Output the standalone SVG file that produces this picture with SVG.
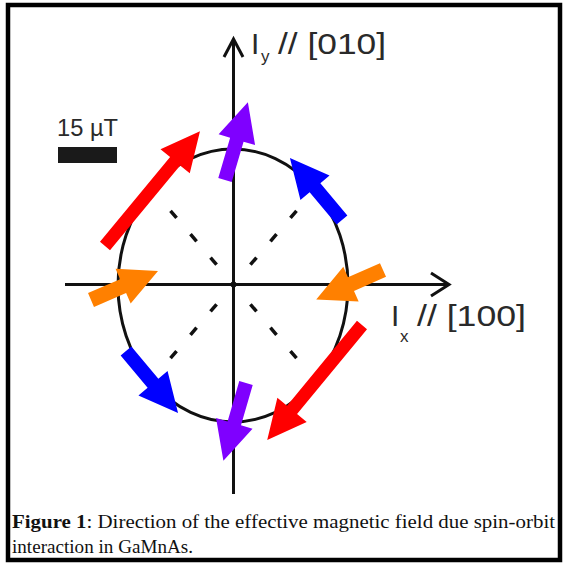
<svg xmlns="http://www.w3.org/2000/svg" width="572" height="566" viewBox="0 0 572 566">
<style>
.ax{stroke:#111;stroke-width:3;fill:none;stroke-linecap:butt}
.dash{stroke:#111;stroke-width:3.5;fill:none;stroke-dasharray:9.4 21.4}
.lbl{font-family:"Liberation Sans",Arial,sans-serif;fill:#2a2a2a}
.cap{font-family:"Liberation Serif","Times New Roman",serif;font-size:18px;fill:#111}
.red{fill:#FF0000}.pur{fill:#7F00FF}.blu{fill:#0000FF}.org{fill:#FF8000}
</style>
<defs>
<path id="longArrow" d="M0,-6.5 L110,-6.5 L110,-19 L149,0 L110,19 L110,6.5 L0,6.5 Z"/>
<path id="shortArrow" d="M0,-7 L42,-7 L42,-19 L81,0 L42,19 L42,7 L0,7 Z"/>
<path id="orgArrow" d="M0,-7.5 L35,-7.5 L35,-19 L73,0 L35,19 L35,7.5 L0,7.5 Z"/>
</defs>
<rect x="8" y="5" width="552" height="555" fill="#fff" stroke="#000" stroke-width="4.5"/>
<g id="axes">
<line class="ax" x1="233.5" y1="494" x2="233.5" y2="39"/>
<polyline class="ax" points="224,57 233.5,39 243,57"/>
<line class="ax" x1="65" y1="284.5" x2="448" y2="284.5"/>
<polyline class="ax" points="431,273 449,284.5 431,296"/>
<circle cx="233.5" cy="284.5" r="3" fill="#111"/>
</g>
<g id="ellipse">
<ellipse class="ax" cx="233" cy="285.5" rx="115" ry="136.5"/>
</g>
<g id="dashes">
<line class="dash" x1="250.4" y1="264.7" x2="296.5" y2="210.8"/>
<line class="dash" x1="216.6" y1="264.7" x2="170.5" y2="210.8"/>
<line class="dash" x1="216.6" y1="304.3" x2="170.5" y2="358.2"/>
<line class="dash" x1="250.4" y1="304.3" x2="296.5" y2="358.2"/>
</g>
<g id="arrows">
<use href="#longArrow" class="red" transform="translate(105,246) rotate(-50.4)"/>
<use href="#longArrow" class="red" transform="translate(362,325) rotate(129.5)"/>
<use href="#shortArrow" class="pur" transform="translate(225,180) rotate(-73.6)"/>
<use href="#shortArrow" class="pur" transform="translate(246,383) rotate(106.2)"/>
<use href="#shortArrow" class="blu" transform="translate(342,220) rotate(-130)"/>
<use href="#shortArrow" class="blu" transform="translate(126,351) rotate(50)"/>
<use href="#orgArrow" class="org" transform="translate(91,300) rotate(-23.4)"/>
<use href="#orgArrow" class="org" transform="translate(383,270) rotate(156.2)"/>
</g>
<g id="scale">
<text class="lbl" x="57" y="136" font-size="23" textLength="61" lengthAdjust="spacingAndGlyphs">15 µT</text>
<rect x="58" y="147" width="59" height="16" fill="#1a1a1a"/>
</g>
<g id="label-y">
<text class="lbl" x="251" y="54" font-size="30">I</text>
<text class="lbl" x="261" y="62" font-size="17">y</text>
<text class="lbl" x="278" y="54" font-size="30" textLength="108" lengthAdjust="spacingAndGlyphs">// [010]</text>
</g>
<g id="label-x">
<text class="lbl" x="391" y="326" font-size="30">I</text>
<text class="lbl" x="400" y="342" font-size="17">x</text>
<text class="lbl" x="417" y="326" font-size="30" textLength="109" lengthAdjust="spacingAndGlyphs">// [100]</text>
</g>
<g id="caption">
<text class="cap" x="12" y="528" textLength="543" lengthAdjust="spacingAndGlyphs"><tspan font-weight="bold">Figure 1</tspan>: Direction of the effective magnetic field due spin-orbit</text>
<text class="cap" x="12" y="553" textLength="181" lengthAdjust="spacingAndGlyphs">interaction in GaMnAs.</text>
</g>
</svg>
